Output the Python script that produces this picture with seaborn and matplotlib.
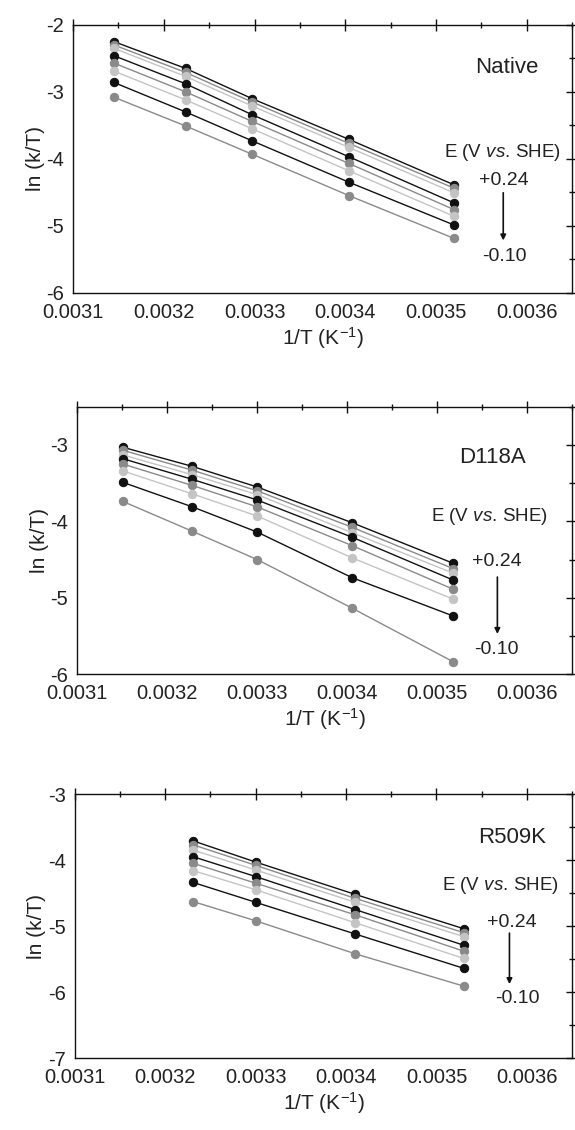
import numpy as np
import pandas as pd
import matplotlib
matplotlib.use("Agg")
import matplotlib.pyplot as plt
from matplotlib.ticker import MultipleLocator
import seaborn as sns

sns.set_style("white")
plt.rcParams['font.family'] = ['Liberation Sans', 'DejaVu Sans']
plt.rcParams['mathtext.fontset'] = 'custom'
plt.rcParams['mathtext.rm'] = 'Liberation Sans'
plt.rcParams['mathtext.it'] = 'Liberation Sans:italic'

# potentials, top (+0.24) to bottom (-0.10)
series_names = ['s1', 's2', 's3', 's4', 's5', 's6', 's7', 's8']
series_colors = ['#111111', '#8a8a8a', '#c4c4c4', '#111111', '#8a8a8a', '#c4c4c4', '#111111', '#8a8a8a']

# Native
native_x = [0.003145, 0.003224, 0.003297, 0.003404, 0.00352]
native_y = [
    [-2.25, -2.65, -3.10, -3.71, -4.39],
    [-2.30, -2.71, -3.15, -3.77, -4.44],
    [-2.35, -2.77, -3.21, -3.83, -4.51],
    [-2.46, -2.88, -3.34, -3.97, -4.66],
    [-2.57, -3.00, -3.44, -4.07, -4.76],
    [-2.69, -3.12, -3.55, -4.18, -4.86],
    [-2.86, -3.30, -3.73, -4.35, -4.99],
    [-3.08, -3.51, -3.93, -4.55, -5.19],
]

# D118A
d118a_x = [0.003151, 0.003228, 0.0033, 0.003406, 0.003518]
d118a_y = [
    [-3.03, -3.28, -3.55, -4.02, -4.55],
    [-3.07, -3.33, -3.60, -4.08, -4.62],
    [-3.13, -3.39, -3.65, -4.15, -4.68],
    [-3.18, -3.45, -3.72, -4.21, -4.77],
    [-3.25, -3.53, -3.81, -4.32, -4.89],
    [-3.34, -3.64, -3.93, -4.48, -5.02],
    [-3.49, -3.81, -4.14, -4.74, -5.24],
    [-3.74, -4.13, -4.50, -5.14, -5.84],
]

# R509K
r509k_x = [0.003231, 0.0033, 0.00341, 0.00353]
r509k_y = [
    [-3.71, -4.03, -4.52, -5.04],
    [-3.77, -4.08, -4.58, -5.10],
    [-3.85, -4.15, -4.64, -5.16],
    [-3.95, -4.25, -4.75, -5.29],
    [-4.05, -4.35, -4.83, -5.38],
    [-4.16, -4.45, -4.95, -5.49],
    [-4.34, -4.64, -5.12, -5.64],
    [-4.63, -4.92, -5.42, -5.91],
]

panels = [
    dict(name='Native', x=native_x, y=native_y, pos=[0.127, 0.741, 0.868, 0.237], ylim=(-6, -2),
         name_xy=(0.87, 0.84), e_xy=(0.86, 0.522), p_xy=(0.864, 0.42),
         arrow=((0.862, 0.373), (0.862, 0.195)), m_xy=(0.864, 0.134)),
    dict(name='D118A', x=d118a_x, y=d118a_y, pos=[0.134, 0.4035, 0.861, 0.2365], ylim=(-6, -2.5),
         name_xy=(0.839, 0.81), e_xy=(0.833, 0.588), p_xy=(0.847, 0.42),
         arrow=((0.849, 0.363), (0.849, 0.15)), m_xy=(0.847, 0.09)),
    dict(name='R509K', x=r509k_x, y=r509k_y, pos=[0.130, 0.0637, 0.865, 0.2336], ylim=(-7, -3),
         name_xy=(0.88, 0.837), e_xy=(0.857, 0.655), p_xy=(0.878, 0.515),
         arrow=((0.874, 0.473), (0.874, 0.28)), m_xy=(0.89, 0.227)),
]

fig = plt.figure(figsize=(5.75, 11.3), dpi=100)
txt = '#222222'

for p in panels:
    ax = fig.add_axes(p['pos'])
    rows = []
    for name, ys in zip(series_names, p['y']):
        for xv, yv in zip(p['x'], ys):
            rows.append((name, xv, yv))
    df = pd.DataFrame(rows, columns=['series', 'invT', 'lnkT'])
    for name, col in zip(series_names, series_colors):
        sub = df[df['series'] == name]
        sns.lineplot(data=sub, x='invT', y='lnkT', color=col, marker='o', markersize=6,
                     markeredgecolor=col, linewidth=1.0, ax=ax, legend=False)

    ax.set_xlim(0.0031, 0.00365)
    ax.set_ylim(*p['ylim'])
    ax.xaxis.set_major_locator(MultipleLocator(0.0001))
    ax.xaxis.set_minor_locator(MultipleLocator(0.00005))
    ax.yaxis.set_major_locator(MultipleLocator(1))
    ax.yaxis.set_minor_locator(MultipleLocator(0.5))
    ax.xaxis.set_major_formatter(plt.FuncFormatter(lambda v, _: f'{v:.4f}'))
    ax.yaxis.set_major_formatter(plt.FuncFormatter(lambda v, _: f'{v:.0f}'))
    ax.tick_params(which='both', direction='inout', top=True, right=True,
                   labelsize=14.5, colors='#111111', labelcolor=txt, width=1)
    ax.tick_params(axis='x', pad=3)
    ax.tick_params(axis='y', pad=2)
    ax.tick_params(which='major', length=9)
    ax.tick_params(which='minor', length=5)
    for s in ax.spines.values():
        s.set_color('#111111')
        s.set_linewidth(1)
    ax.set_xlabel('1/T (K$^{-1}$)', fontsize=15, color=txt, labelpad=2)
    ax.set_ylabel('ln (k/T)', fontsize=15, color=txt, labelpad=1)

    ax.text(*p['name_xy'], p['name'], transform=ax.transAxes, ha='center', va='center',
            fontsize=16, color=txt)
    ax.text(*p['e_xy'], 'E (V $\\it{vs.}\\,$SHE)', transform=ax.transAxes, ha='center',
            va='center', fontsize=13.5, color=txt)
    ax.text(*p['p_xy'], '+0.24', transform=ax.transAxes, ha='center', va='center',
            fontsize=14, color=txt)
    ax.text(*p['m_xy'], '-0.10', transform=ax.transAxes, ha='center', va='center',
            fontsize=14, color=txt)
    ax.annotate('', xy=p['arrow'][1], xytext=p['arrow'][0], xycoords='axes fraction',
                arrowprops=dict(arrowstyle='-|>', color='#111111', lw=1.2,
                                mutation_scale=8, shrinkA=0, shrinkB=0))

fig.savefig('out.png', dpi=100)
